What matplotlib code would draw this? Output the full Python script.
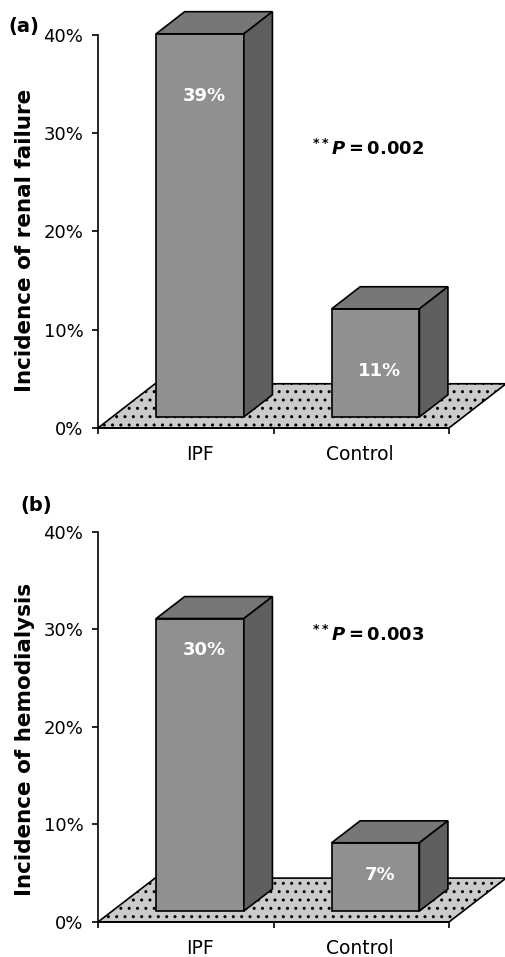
import matplotlib.pyplot as plt
from matplotlib.patches import Polygon

# Data
groups = ['IPF', 'Control']
renal_failure = [39, 11]
hemodialysis = [30, 7]
p_values = ['0.002', '0.003']
panel_tags = ['(a)', '(b)']
ylabels = ['Incidence of renal failure', 'Incidence of hemodialysis']
yticks = [0, 10, 20, 30, 40]
yticklabels = ['0%', '10%', '20%', '30%', '40%']

plt.rcParams['font.family'] = 'DejaVu Sans'
plt.rcParams['mathtext.fontset'] = 'custom'
plt.rcParams['mathtext.it'] = 'DejaVu Sans:bold:italic'
plt.rcParams['mathtext.rm'] = 'DejaVu Sans:bold'
plt.rcParams['mathtext.bf'] = 'DejaVu Sans:bold'

# oblique depth of the floor (x in category units, y in percent)
DX, DY = 0.325, 4.5
FRONT = '#909092'
TOP = '#77777a'
SIDE = '#5f5f62'
FLOOR = '#cbcbcb'


def draw_panel(ax, values, pval, p_y, ylabel, lab_y, val_off):
    ax.set_xlim(0, 2)
    ax.set_ylim(0, 40)

    # dotted floor
    floor = Polygon([(0, 0), (2, 0), (2 + DX, DY), (DX, DY)], closed=True,
                    facecolor=FLOOR, edgecolor='black', hatch='..',
                    linewidth=1.2, clip_on=False, zorder=1)
    ax.add_patch(floor)

    # 3D bars, sitting between depth 0.25 and 0.75 of the floor
    for i, v in enumerate(values):
        x0 = i + 0.25 + 0.25 * DX
        x1 = i + 0.75 + 0.25 * DX
        y0 = 0.25 * DY
        y1 = y0 + v
        ddx, ddy = 0.5 * DX, 0.5 * DY
        front = [(x0, y0), (x1, y0), (x1, y1), (x0, y1)]
        top = [(x0, y1), (x1, y1), (x1 + ddx, y1 + ddy), (x0 + ddx, y1 + ddy)]
        side = [(x1, y0), (x1 + ddx, y0 + ddy), (x1 + ddx, y1 + ddy), (x1, y1)]
        for pts, col in [(front, FRONT), (top, TOP), (side, SIDE)]:
            ax.add_patch(Polygon(pts, closed=True, facecolor=col,
                                 edgecolor='black', linewidth=1.2,
                                 clip_on=False, zorder=2))
        ax.annotate(f'{v}%', xy=((x0 + x1) / 2, y1), xytext=(3, -val_off),
                    textcoords='offset points', ha='center', va='center',
                    color='white', fontsize=13, fontweight='bold', zorder=3,
                    annotation_clip=False)

    ax.text(1.54, p_y, r'$^{**}P = \mathrm{' + pval + '}$',
            ha='center', va='center', fontsize=13)

    # axes styling
    for s in ['top', 'right']:
        ax.spines[s].set_visible(False)
    ax.spines['left'].set_linewidth(1.2)
    ax.spines['bottom'].set_linewidth(1.2)
    ax.set_yticks(yticks)
    ax.set_yticklabels(yticklabels, fontsize=13)
    ax.set_xticks([0, 1, 2])
    ax.set_xticklabels([])
    ax.set_xticks([0.58, 1.49], groups, minor=True)
    ax.tick_params(axis='both', which='major', direction='out', length=4.5,
                   width=1.2, pad=6)
    ax.tick_params(axis='x', which='minor', length=0, pad=12, labelsize=13.5)
    ax.set_ylabel(ylabel, fontsize=15.5, fontweight='bold')
    ax.yaxis.set_label_coords(-0.18, lab_y)


fig = plt.figure(figsize=(5.06, 9.57), dpi=100)
ax1 = fig.add_axes([0.1937, 0.5528, 0.6937, 0.4106])
ax2 = fig.add_axes([0.1937, 0.0366, 0.6937, 0.4075])

draw_panel(ax1, renal_failure, p_values[0], 28.4, ylabels[0], 0.478, 45)
draw_panel(ax2, hemodialysis, p_values[1], 29.4, ylabels[1], 0.467, 23)

fig.text(0.047, 0.972, panel_tags[0], fontsize=14, fontweight='bold',
         ha='center', va='center')
fig.text(0.071, 0.472, panel_tags[1], fontsize=14, fontweight='bold',
         ha='center', va='center')

fig.savefig('out.png', dpi=100)
